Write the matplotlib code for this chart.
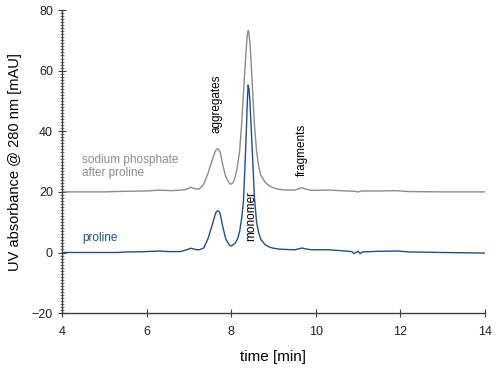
import matplotlib
matplotlib.use("Agg")
import matplotlib.pyplot as plt
from matplotlib.ticker import MultipleLocator

plt.rcParams['font.family'] = ['Liberation Sans', 'DejaVu Sans']

# retention time [min] and absorbance [mAU]
t_pro = [4.0, 4.5, 5.0, 5.3, 5.5, 6.0, 6.3, 6.5, 6.8, 6.95, 7.05, 7.15, 7.25,
         7.35, 7.45, 7.55, 7.62, 7.65, 7.68, 7.71, 7.74, 7.80, 7.87, 7.95,
         7.98, 8.01, 8.05, 8.1, 8.15, 8.2, 8.25, 8.29, 8.33, 8.36, 8.38, 8.40,
         8.42, 8.44, 8.47, 8.5, 8.55, 8.6, 8.65, 8.7, 8.8, 8.9, 9.0, 9.15,
         9.3, 9.5, 9.6, 9.67, 9.75, 9.9, 10.3, 10.6, 10.85, 10.9, 11.0, 11.05,
         11.1, 11.5, 11.9, 12.2, 13.0, 14.0]
uv_pro = [0.0, 0.0, 0.0, 0.0, 0.15, 0.3, 0.5, 0.3, 0.3, 0.9, 1.4, 1.0, 0.9,
          1.5, 4.5, 9.0, 12.5, 13.5, 13.8, 13.5, 12.8, 8.5, 4.5, 2.6,
          2.2, 2.2, 2.6, 3.2, 4.5, 7.0, 11.5, 17.0, 30.0, 41.0, 49.5, 55.2,
          54.0, 50.5, 42.0, 33.0, 18.0, 10.0, 6.5, 4.3, 2.6, 1.8, 1.4, 1.1,
          1.0, 0.9, 1.2, 1.5, 1.2, 0.9, 0.9, 0.6, 0.3, -0.3, 0.4, -0.4,
          0.2, 0.4, 0.5, 0.2, 0.0, -0.2]

t_sp = [4.0, 5.0, 5.5, 6.0, 6.3, 6.6, 6.9, 7.05, 7.15, 7.25, 7.35, 7.45,
        7.55, 7.62, 7.65, 7.68, 7.71, 7.74, 7.8, 7.87, 7.95, 7.98, 8.01, 8.04,
        8.07, 8.13, 8.2, 8.25, 8.3, 8.35, 8.38, 8.40, 8.42, 8.45, 8.5, 8.55,
        8.6, 8.65, 8.7, 8.8, 8.9, 9.0, 9.15, 9.3, 9.5, 9.6, 9.67, 9.75,
        9.85, 10.0, 10.3, 10.6, 10.9, 11.0, 11.1, 11.5, 11.9, 12.2, 13.0, 14.0]
uv_sp = [20.0, 20.0, 20.2, 20.3, 20.6, 20.4, 20.7, 21.5, 21.0, 21.0, 22.5, 26.0,
         30.5, 33.3, 34.0, 34.2, 33.9, 33.0, 29.0, 25.0, 23.0, 22.6, 22.6, 23.0,
         23.8, 27.0, 33.5, 43.0, 55.0, 66.0, 71.8, 73.3, 72.3, 68.0, 55.0, 42.0,
         33.5, 28.5, 25.5, 23.2, 22.0, 21.3, 20.8, 20.6, 20.6, 21.0, 21.4, 21.0,
         20.6, 20.5, 20.6, 20.4, 20.2, 20.0, 20.3, 20.3, 20.4, 20.1, 20.0, 20.0]

blue = '#1f4e96'
grey = '#8c8c8c'
axis_col = '#404040'

fig = plt.figure(figsize=(5, 3.71), dpi=100)
ax = fig.add_axes([0.124, 0.156, 0.846, 0.817])

ax.plot(t_sp, uv_sp, color=grey, lw=1.0)
ax.plot(t_pro, uv_pro, color=blue, lw=1.0)

ax.set_xlim(4, 14)
ax.set_ylim(-20, 80)
ax.xaxis.set_major_locator(MultipleLocator(2))
ax.yaxis.set_major_locator(MultipleLocator(20))
ax.yaxis.set_minor_locator(MultipleLocator(1))

for s in ['top', 'right']:
    ax.spines[s].set_visible(False)
for s in ['left', 'bottom']:
    ax.spines[s].set_color(axis_col)
    ax.spines[s].set_linewidth(1.0)

ax.tick_params(which='major', direction='inout', length=6, width=0.8,
               color=axis_col, labelsize=9, labelcolor='#222222')
ax.tick_params(axis='y', which='minor', direction='inout', length=3,
               width=0.5, color=axis_col)
ax.tick_params(axis='x', which='major', pad=6)

ax.set_xlabel('time [min]', fontsize=11, labelpad=9)
ax.set_ylabel('UV absorbance @ 280 nm [mAU]', fontsize=10.5, labelpad=7)

ax.text(4.47, 28.4, 'sodium phosphate\nafter proline', color=grey,
        fontsize=8.5, ha='left', va='center', linespacing=1.1)
ax.text(4.47, 4.9, 'proline', color=blue, fontsize=8.5, ha='left', va='center')
ax.text(7.66, 49.0, 'aggregates', rotation=90, fontsize=8.5,
        ha='center', va='center')
ax.text(8.47, 12.1, 'monomer', rotation=90, fontsize=8.5,
        ha='center', va='center')
ax.text(9.68, 33.9, 'fragments', rotation=90, fontsize=8.5,
        ha='center', va='center')

fig.savefig('out.png', dpi=100)
